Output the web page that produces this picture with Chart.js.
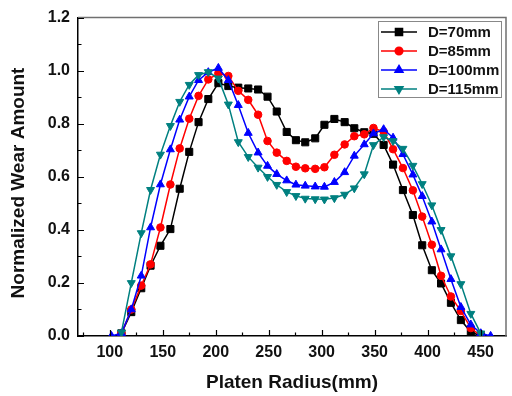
<!DOCTYPE html>
<html>
<head>
<meta charset="utf-8">
<script src="https://cdn.jsdelivr.net/npm/chart.js@4.4.0/dist/chart.umd.min.js"></script>
<style>
  html, body { margin: 0; padding: 0; background: #fff; }
  #wrap { width: 512px; height: 396px; }
</style>
</head>
<body>
<div id="wrap"><canvas id="wearChart" width="512" height="396"></canvas></div>
<script>
// platen radius (mm) of each measured point
const radius = [101.6, 111, 120.3, 129.7, 138.5, 147.8, 157.2, 166, 175, 183.8,
  193, 202.5, 211.9, 221.3, 230.7, 240, 248.9, 257.6, 267, 275.7,
  284.5, 293.9, 302.6, 312, 321.7, 330.8, 340.2, 348.9, 358.5, 367.4,
  376.7, 386.1, 394.9, 404, 412.7, 422, 431.4, 440.8, 450.2, 459.5];

const wearD70 = [null, 0.01, 0.09, 0.18, 0.265, 0.34, 0.403, 0.555, 0.694, 0.806,
  0.893, 0.953, 0.942, 0.936, 0.933, 0.929, 0.902, 0.846, 0.769, 0.738,
  0.73, 0.745, 0.796, 0.818, 0.806, 0.783, 0.768, 0.762, 0.72, 0.646,
  0.55, 0.456, 0.342, 0.248, 0.198, 0.125, 0.06, 0.015, 0.0, null];

const wearD85 = [null, 0.01, 0.1, 0.19, 0.27, 0.409, 0.571, 0.707, 0.819, 0.905,
  0.967, 0.99, 0.98, 0.924, 0.89, 0.834, 0.735, 0.691, 0.66, 0.638,
  0.632, 0.63, 0.636, 0.683, 0.722, 0.753, 0.76, 0.784, 0.77, 0.704,
  0.633, 0.549, 0.45, 0.344, 0.227, 0.149, 0.094, 0.03, 0.0, null];

const wearD100 = [0.0, 0.01, 0.1, 0.227, 0.409, 0.571, 0.703, 0.815, 0.902, 0.964,
  0.994, 1.01, 0.964, 0.87, 0.765, 0.691, 0.641, 0.61, 0.586, 0.57,
  0.566, 0.563, 0.562, 0.58, 0.617, 0.679, 0.722, 0.763, 0.779, 0.747,
  0.685, 0.608, 0.527, 0.431, 0.326, 0.214, 0.109, 0.043, 0.01, 0.0];

const wearD115 = [null, 0.014, 0.2, 0.388, 0.551, 0.684, 0.792, 0.883, 0.947, 0.984,
  0.995, 0.971, 0.873, 0.731, 0.675, 0.635, 0.6, 0.57, 0.543, 0.528,
  0.518, 0.516, 0.515, 0.52, 0.533, 0.557, 0.61, 0.72, 0.75, 0.735,
  0.706, 0.642, 0.573, 0.493, 0.4, 0.301, 0.196, 0.084, 0.01, null];

const seriesNames = ['D=70mm', 'D=85mm', 'D=100mm', 'D=115mm'];

const xMajorTicks = [100, 150, 200, 250, 300, 350, 400, 450];
const xMinorTicks = [75, 125, 175, 225, 275, 325, 375, 425];
const yMajorTicks = [0, 0.2, 0.4, 0.6, 0.8, 1.0, 1.2];
const yMinorTicks = [0.1, 0.3, 0.5, 0.7, 0.9, 1.1];

const FONT = "'Liberation Sans', Arial, sans-serif";

// pair radius with a series, skipping missing points
function toPoints(values) {
    return radius.map((x, i) => ({ x: x, y: values[i] })).filter(p => p.y !== null);
}

const styles = [
    { color: '#000000', pointStyle: 'rect', radius: 5, rotation: 0 },
    { color: '#ff0000', pointStyle: 'circle', radius: 3.8, rotation: 0 },
    { color: '#0000ff', pointStyle: 'triangle', radius: 4.6, rotation: 0 },
    { color: '#008080', pointStyle: 'triangle', radius: 4.6, rotation: 180 }
];

const allSeries = [wearD70, wearD85, wearD100, wearD115];

const datasets = allSeries.map((values, i) => ({
    label: seriesNames[i],
    data: toPoints(values),
    borderColor: styles[i].color,
    backgroundColor: styles[i].color,
    borderWidth: 1.5,
    pointStyle: styles[i].pointStyle,
    pointRadius: styles[i].radius,
    pointRotation: styles[i].rotation,
    pointBorderWidth: 1,
    pointBackgroundColor: styles[i].color,
    pointBorderColor: styles[i].color,
    tension: 0,
    order: 4 - i   // later series drawn on top, like the original
}));

// box frame, inward ticks, axis titles and the boxed legend
const framePlugin = {
    id: 'framePlugin',
    afterDraw(chart) {
        const { ctx, chartArea: a, scales: { x, y } } = chart;
        ctx.save();

        ctx.strokeStyle = '#707070';
        ctx.lineWidth = 1.5;
        ctx.beginPath();
        ctx.moveTo(a.left, a.top);
        ctx.lineTo(a.right, a.top);
        ctx.lineTo(a.right, a.bottom);
        ctx.stroke();

        ctx.strokeStyle = '#000';
        ctx.lineWidth = 1.2;
        ctx.beginPath();
        xMajorTicks.forEach(v => {
            const px = Math.round(x.getPixelForValue(v)) + 0.5;
            ctx.moveTo(px, a.bottom); ctx.lineTo(px, a.bottom - 6);
        });
        xMinorTicks.forEach(v => {
            const px = Math.round(x.getPixelForValue(v)) + 0.5;
            ctx.moveTo(px, a.bottom); ctx.lineTo(px, a.bottom - 3.5);
        });
        yMajorTicks.forEach(v => {
            const py = Math.round(y.getPixelForValue(v)) + 0.5;
            ctx.moveTo(a.left, py); ctx.lineTo(a.left + 6, py);
        });
        yMinorTicks.forEach(v => {
            const py = Math.round(y.getPixelForValue(v)) + 0.5;
            ctx.moveTo(a.left, py); ctx.lineTo(a.left + 3.5, py);
        });
        ctx.stroke();

        // axis titles
        ctx.fillStyle = '#111';
        ctx.font = 'bold 19px ' + FONT;
        ctx.textAlign = 'center';
        ctx.textBaseline = 'middle';
        ctx.fillText('Platen Radius(mm)', (a.left + a.right) / 2, 383);
        ctx.save();
        ctx.translate(19, 183);
        ctx.rotate(-Math.PI / 2);
        ctx.fillText('Normalized Wear Amount', 0, 0);
        ctx.restore();

        // legend box
        const lx = 378, ly = 21, lw = 123, lh = 76;
        ctx.fillStyle = '#fff';
        ctx.fillRect(lx, ly, lw, lh);
        ctx.strokeStyle = '#888';
        ctx.lineWidth = 1;
        ctx.strokeRect(lx + 0.5, ly + 0.5, lw, lh);

        ctx.font = 'bold 15px ' + FONT;
        ctx.textAlign = 'left';
        chart.data.datasets.forEach((ds, i) => {
            const rowY = 32 + i * 19;
            ctx.strokeStyle = ds.borderColor;
            ctx.lineWidth = 1.5;
            ctx.beginPath();
            ctx.moveTo(381, rowY); ctx.lineTo(417, rowY);
            ctx.stroke();
            ctx.fillStyle = ds.borderColor;
            Chart.helpers.drawPoint(ctx, {
                pointStyle: ds.pointStyle,
                radius: ds.pointRadius,
                rotation: ds.pointRotation,
                borderWidth: 1
            }, 399, rowY);
            ctx.fillStyle = '#111';
            ctx.fillText(ds.label, 428, rowY + 1);
        });

        ctx.restore();
    }
};

const ctxEl = document.getElementById('wearChart').getContext('2d');

new Chart(ctxEl, {
    type: 'line',
    data: { datasets: datasets },
    options: {
        responsive: false,
        animation: false,
        layout: { padding: { top: 13, right: 3, left: 0, bottom: 0 } },
        plugins: {
            legend: { display: false },
            tooltip: { enabled: false }
        },
        scales: {
            x: {
                type: 'linear',
                min: 70,
                max: 474,
                afterBuildTicks: (scale) => {
                    scale.ticks = xMajorTicks.map(v => ({ value: v }));
                },
                afterFit: (scale) => { scale.height = 60; },
                grid: { display: false, drawTicks: false },
                border: { display: true, color: '#000', width: 1.5 },
                ticks: {
                    color: '#111',
                    padding: 7,
                    maxRotation: 0,
                    font: { family: FONT, size: 16, weight: 'bold' }
                }
            },
            y: {
                type: 'linear',
                min: 0,
                max: 1.2,
                afterBuildTicks: (scale) => {
                    scale.ticks = yMajorTicks.map(v => ({ value: v }));
                },
                afterFit: (scale) => { scale.width = 78; },
                grid: { display: false, drawTicks: false },
                border: { display: true, color: '#000', width: 1.5 },
                ticks: {
                    color: '#111',
                    padding: 8,
                    font: { family: FONT, size: 16, weight: 'bold' },
                    callback: (v) => Number(v).toFixed(1)
                }
            }
        }
    },
    plugins: [framePlugin]
});
</script>
</body>
</html>
